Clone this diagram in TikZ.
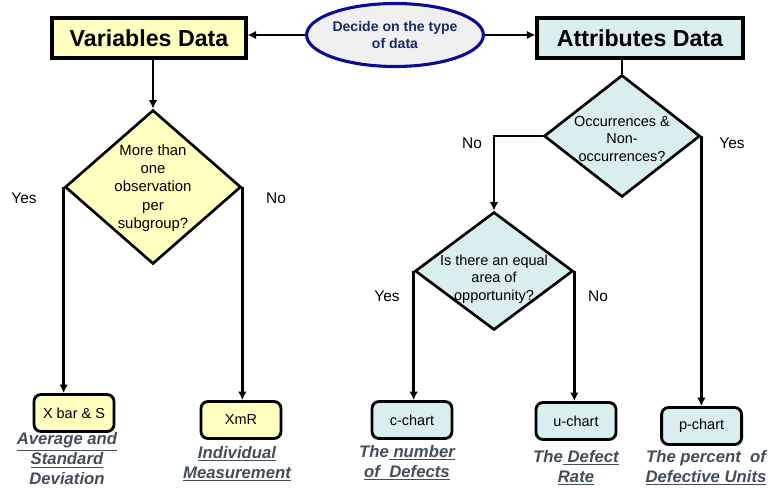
\documentclass[tikz,border=0pt]{standalone}
\usepackage{fontspec}
\setmainfont{Liberation Sans}
\usetikzlibrary{shapes.geometric, arrows.meta}
\definecolor{varfill}{HTML}{FFFFBF}
\definecolor{attfill}{HTML}{DAEDEF}
\definecolor{ellfill}{HTML}{F0F0F0}
\definecolor{elledge}{HTML}{0A0A96}
\definecolor{elltext}{HTML}{1C2A6A}
\definecolor{notetext}{HTML}{434E5A}

\begin{document}
\begin{tikzpicture}[
        >={Latex[length=6pt,width=6pt]},
        databox/.style={draw, line width=2.3pt, minimum height=1cm, inner sep=0pt, font=\fontsize{16.5}{19}\selectfont\bfseries},
        chartbox/.style={draw, line width=2pt, rounded corners=5pt, minimum width=2cm, minimum height=0.925cm, inner sep=0pt, font=\fontsize{10.3}{12}\selectfont},
        decision/.style={draw, diamond, line width=1.9pt, inner sep=0pt},
        qtext/.style={align=center, font=\fontsize{10.6}{13}\selectfont},
        yesno/.style={font=\fontsize{11}{13}\selectfont},
        note/.style={align=center, text=notetext, font=\fontsize{11.9}{14.2}\selectfont\bfseries\itshape},
        flow/.style={line width=2pt}
    ]
        \useasboundingbox (0,0) rectangle (19.2,-12.225);

        \node (ell) at (9.875,-0.875) [ellipse, draw=elledge, line width=2.2pt, fill=ellfill, minimum width=3.95cm, minimum height=1.575cm, inner sep=0pt, align=center, text=elltext, font=\fontsize{10}{12}\selectfont\bfseries] {Decide on the type\\of data};
        \node (vd) at (3.725,-0.95) [databox, fill=varfill, minimum width=4.85cm] {Variables Data};
        \node (ad) at (16,-0.95) [databox, fill=attfill, minimum width=5.15cm] {Attributes Data};

        \node (q1) at (3.825,-4.675) [decision, fill=varfill, minimum width=4.4cm, minimum height=3.85cm] {};
        \node (q1t) at (3.825,-4.7) [qtext] {More than\\one\\observation\\per\\subgroup?};
        \node (q2) at (15.55,-3.4) [decision, fill=attfill, minimum width=3.9cm, minimum height=3.05cm] {};
        \node (q2t) at (15.55,-3.475) [qtext, font=\fontsize{10.3}{12.6}\selectfont] {Occurrences \&\\Non-\\occurrences?};
        \node (q3) at (12.35,-6.775) [decision, fill=attfill, minimum width=3.95cm, minimum height=2.95cm] {};
        \node (q3t) at (12.35,-6.975) [qtext, font=\fontsize{10.3}{12.6}\selectfont] {Is there an equal\\area of\\opportunity?};

        \node (xbar) at (1.85,-10.325) [chartbox, fill=varfill] {X bar \& S};
        \node (xmr) at (6.025,-10.5) [chartbox, fill=varfill] {XmR};
        \node (cch) at (10.3,-10.5) [chartbox, fill=attfill] {c-chart};
        \node (uch) at (14.4,-10.525) [chartbox, fill=attfill] {u-chart};
        \node (pch) at (17.54,-10.65) [chartbox, fill=attfill] {p-chart};

        \node (y1) at (0.6,-4.95) [yesno] {Yes};
        \node (n1) at (6.9,-4.95) [yesno] {No};
        \node (n2) at (11.8,-3.575) [yesno] {No};
        \node (y2) at (18.3,-3.575) [yesno] {Yes};
        \node (y3) at (9.675,-7.4) [yesno] {Yes};
        \node (n3) at (14.95,-7.4) [yesno] {No};

        \node (avg) at (1.675,-11.47) [note] {\underline{Average and}\\\underline{Standard}\\Deviation};
        \node (ind) at (5.925,-11.6) [note] {\underline{Individual}\\\underline{Measurement}};
        \node (num) at (10.175,-11.575) [note] {The\underline{\ number}\\\underline{of\ \ Defects}};
        \node (rate) at (14.4,-11.7) [note] {The\underline{\ Defect}\\\underline{Rate}};
        \node (pct) at (17.65,-11.7) [note] {The percent\ \ of\\\underline{Defective Units}};

        \draw [flow, ->] (ell.west) -- (ell.west -| vd.east);
        \draw [flow, ->] (ell.east) -- (ell.east -| ad.west);
        \draw [flow, ->] (vd.south -| q1.north) -- (q1.north);
        \draw [flow] (ad.south -| q2.north) -- (q2.north);
        \draw [flow, ->] (q1.west) -- (q1.west |- xbar.north);
        \draw [flow, ->] (q1.east) -- (q1.east |- xmr.north);
        \draw [flow, ->] (q2.west) -| (q3.north);
        \draw [flow, ->] (q2.east) -- (q2.east |- pch.north);
        \draw [flow, ->] (q3.west) -- (q3.west |- cch.north);
        \draw [flow, ->] (q3.east) -- (q3.east |- uch.north);
      \end{tikzpicture}
\end{document}
